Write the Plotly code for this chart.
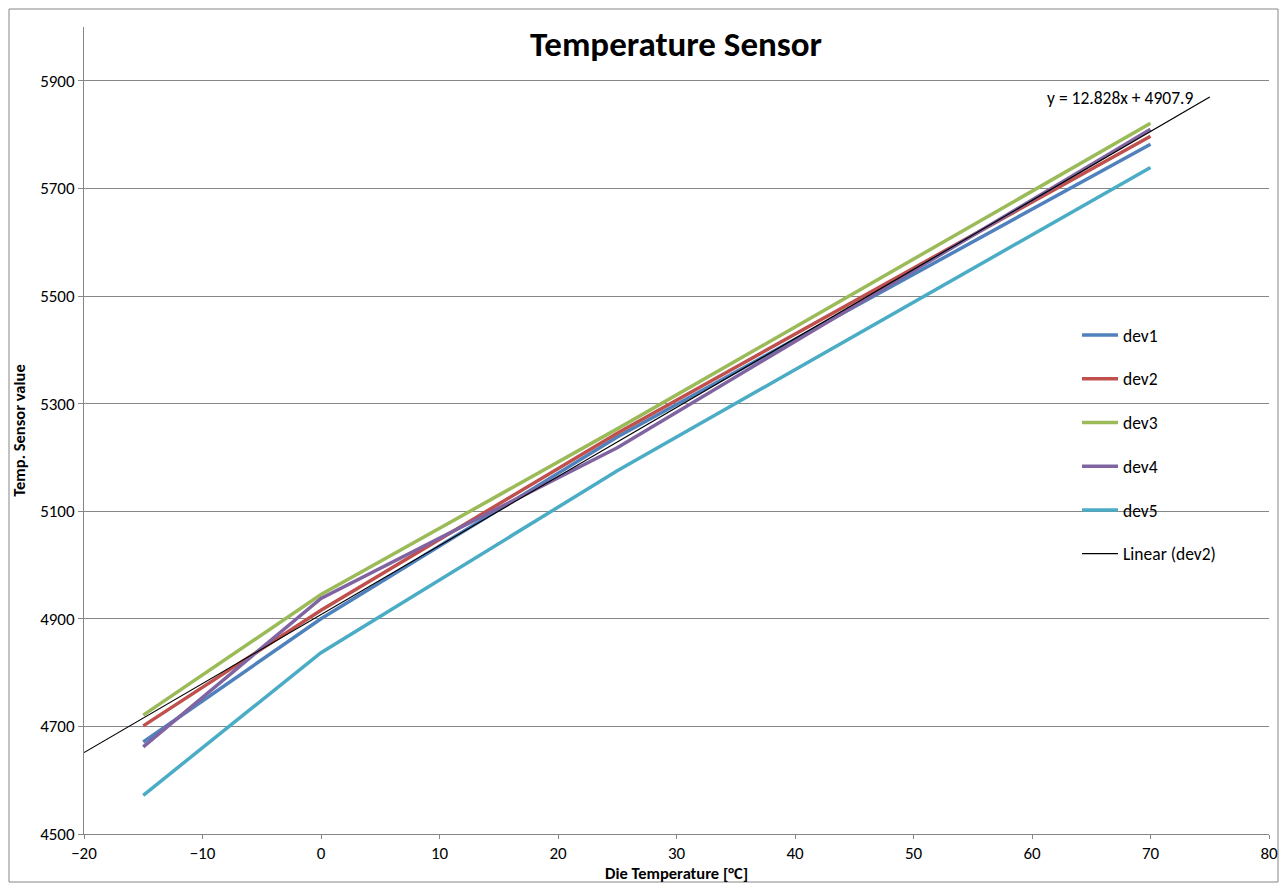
import plotly.graph_objects as go

# ---- data ----
temps = [-15, 0, 25, 70]
dev1 = [4671, 4900, 5238, 5782]
dev2 = [4701, 4916, 5245, 5797]
dev3 = [4721, 4945, 5253, 5821]
dev4 = [4662, 4938, 5218, 5810]
dev5 = [4572, 4837, 5175, 5739]
series_names = ["dev1", "dev2", "dev3", "dev4", "dev5"]
series_colors = ["#4F81BD", "#C0504D", "#9BBB59", "#8064A2", "#4BACC6"]
trend_slope = 12.828
trend_intercept = 4907.9
trend_x = [-20, 75]
x_ticks = [-20, -10, 0, 10, 20, 30, 40, 50, 60, 70, 80]
y_ticks = [4500, 4700, 4900, 5100, 5300, 5500, 5700, 5900]

FONT = "Carlito, Calibri, Lato, sans-serif"

# page body has an 8px margin; the figure is sized so the plot area lands
# at x 84..1269, y 27..834 of the window
PAGE_OFF = 8
W, H = 1287 - 2 * PAGE_OFF, 891 - 2 * PAGE_OFF
ML, MR, MT, MB = 84 - PAGE_OFF, (PAGE_OFF + W) - 1269, 27 - PAGE_OFF, (PAGE_OFF + H) - 834
PW, PH = 1269 - 84, 834 - 27

fig = go.Figure()
for name, vals, col in zip(series_names, [dev1, dev2, dev3, dev4, dev5], series_colors):
    fig.add_trace(go.Scatter(x=temps, y=vals, mode="lines", name=name,
                             line=dict(color=col, width=3.5), legendgroup=name))

trend_y = [trend_slope * x + trend_intercept for x in trend_x]
fig.add_trace(go.Scatter(x=trend_x, y=trend_y, mode="lines", name="Linear (dev2)",
                         line=dict(color="black", width=1.2), legendgroup="trend"))

fig.add_annotation(x=67.4, y=5868, text="y = 12.828x + 4907.9", showarrow=False,
                   font=dict(family=FONT, size=17.5, color="black"), xref="x", yref="y")

# x-axis title placed as annotation (axis automargin is off)
fig.add_annotation(x=0.5, y=(834 - 873) / PH, xref="paper", yref="paper",
                   text="<b>Die Temperature [°C]</b>", showarrow=False,
                   xanchor="center", yanchor="middle",
                   font=dict(family=FONT, size=16.5, color="black"))

fig.update_layout(
    width=W, height=H,
    margin=dict(l=ML, r=MR, t=MT, b=MB, autoexpand=False),
    paper_bgcolor="white", plot_bgcolor="white",
    font=dict(family=FONT, size=17, color="black"),
    title=dict(text="<b>Temperature Sensor</b>", x=(676 - PAGE_OFF) / W, xanchor="center",
               y=1 - (44 - PAGE_OFF) / H, yanchor="middle",
               font=dict(family=FONT, size=35, color="black")),
    legend=dict(x=(1085 - 8 - 84) / PW, y=(834 - 317) / PH, xanchor="left", yanchor="top",
                tracegroupgap=18, font=dict(family=FONT, size=17.5),
                bgcolor="rgba(0,0,0,0)", itemwidth=36),
    showlegend=True,
)
fig.update_xaxes(range=[-20, 80], tickvals=x_ticks, showgrid=False, zeroline=False,
                 showline=True, linecolor="#868686", linewidth=1, automargin=False,
                 ticks="outside", ticklen=4, tickcolor="#868686",
                 tickfont=dict(family=FONT, size=17))
fig.update_yaxes(range=[4500, 6000], tickvals=y_ticks, showgrid=True, gridcolor="#868686",
                 gridwidth=1, zeroline=False, showline=True, linecolor="#868686", linewidth=1,
                 automargin=False,
                 ticks="outside", ticklen=5, tickcolor="#868686",
                 title=dict(text="<b>Temp. Sensor value</b>", font=dict(family=FONT, size=16.5), standoff=10),
                 tickfont=dict(family=FONT, size=17))

# outer chart border
fig.add_shape(type="rect", xref="paper", yref="paper",
              x0=(9 - 84) / PW, x1=(1278 - 84) / PW,
              y0=(834 - 882) / PH, y1=(834 - 9) / PH,
              line=dict(color="#868686", width=1), fillcolor="rgba(0,0,0,0)", layer="below")

fig.write_html("out.html")
